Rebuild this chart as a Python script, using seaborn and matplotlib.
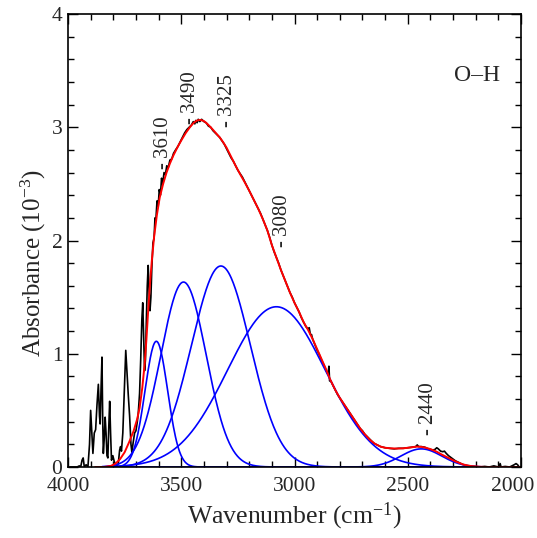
import numpy as np
import pandas as pd
import matplotlib
matplotlib.use("Agg")
import matplotlib.pyplot as plt
from matplotlib.ticker import MultipleLocator
from matplotlib.transforms import ScaledTranslation
import seaborn as sns

# ---- measured spectrum (wavenumber in cm^-1, absorbance in 1e-3) ----
meas_wn = [3990, 3960, 3950, 3944, 3938, 3933, 3928, 3920, 3912, 3905, 3900, 3894,
           3890, 3884, 3878, 3872, 3866, 3861, 3858, 3854, 3850, 3847, 3844, 3840,
           3836, 3832, 3828, 3824, 3820, 3816, 3812, 3808, 3802, 3796, 3790, 3784,
           3778, 3772, 3768, 3764, 3758, 3750, 3745, 3740, 3734, 3728, 3722, 3718,
           3712, 3706, 3700, 3694, 3690, 3684, 3679, 3674, 3670, 3666, 3662, 3658,
           3654, 3650, 3646, 3642, 3638, 3634, 3630, 3625, 3620, 3616, 3612, 3607,
           3602, 3597, 3592, 3587, 3582, 3576, 3570, 3564, 3558, 3550, 3542, 3534,
           3525, 3515, 3505, 3495, 3485, 3475, 3465, 3455, 3447, 3440, 3436, 3430,
           3425, 3418, 3410, 3400, 3390, 3380, 3370, 3360, 3350, 3340, 3330, 3320,
           3310, 3300, 3290, 3280, 3270, 3260, 3250, 3240, 3230, 3220, 3210, 3200,
           3190, 3180, 3170, 3160, 3150, 3140, 3130, 3120, 3110, 3100, 3090, 3080,
           3070, 3060, 3050, 3040, 3030, 3020, 3010, 3000, 2990, 2980, 2970, 2960,
           2950, 2940, 2935, 2930, 2925, 2920, 2910, 2900, 2890, 2880, 2870, 2860,
           2852, 2848, 2845, 2840, 2830, 2820, 2810, 2800, 2790, 2780, 2770, 2760,
           2750, 2740, 2730, 2720, 2710, 2700, 2690, 2680, 2670, 2660, 2650, 2640,
           2630, 2620, 2610, 2600, 2580, 2560, 2540, 2520, 2500, 2480, 2465, 2458,
           2452, 2440, 2425, 2410, 2400, 2390, 2380, 2372, 2365, 2355, 2345, 2338,
           2330, 2320, 2310, 2300, 2290, 2280, 2270, 2260, 2250, 2240, 2220, 2200,
           2180, 2160, 2140, 2120, 2100, 2092, 2088, 2070, 2050, 2030, 2022, 2015,
           2008, 2000]
meas_abs = [0.00, 0.00, 0.01, 0.00, 0.06, 0.08, 0.00, 0.02, 0.00, 0.20, 0.50, 0.28,
            0.12, 0.30, 0.33, 0.55, 0.73, 0.45, 0.38, 0.70, 0.97, 0.45, 0.12, 0.25,
            0.44, 0.30, 0.10, 0.08, 0.35, 0.58, 0.30, 0.06, 0.10, 0.05, 0.02, 0.01,
            0.03, 0.15, 0.18, 0.14, 0.30, 0.75, 1.03, 0.85, 0.64, 0.45, 0.20, 0.13,
            0.22, 0.30, 0.32, 0.40, 0.47, 0.65, 0.95, 1.30, 1.45, 1.15, 0.85, 0.95,
            1.30, 1.60, 1.78, 1.55, 1.38, 1.50, 1.75, 1.98, 2.02, 2.20, 2.18, 2.35,
            2.30, 2.45, 2.40, 2.55, 2.50, 2.60, 2.58, 2.66, 2.64, 2.71, 2.72, 2.77,
            2.80, 2.83, 2.87, 2.91, 2.95, 2.98, 3.00, 3.02, 3.05, 3.03, 3.06, 3.04,
            3.07, 3.05, 3.07, 3.05, 3.04, 3.01, 3.00, 2.97, 2.95, 2.93, 2.91, 2.88,
            2.85, 2.81, 2.77, 2.73, 2.70, 2.66, 2.62, 2.59, 2.56, 2.52, 2.48, 2.44,
            2.40, 2.36, 2.32, 2.28, 2.24, 2.19, 2.14, 2.09, 2.03, 1.96, 1.90, 1.85,
            1.80, 1.74, 1.69, 1.64, 1.59, 1.54, 1.50, 1.45, 1.41, 1.37, 1.32, 1.28,
            1.24, 1.22, 1.23, 1.17, 1.17, 1.13, 1.08, 1.03, 0.99, 0.94, 0.90, 0.85,
            0.82, 0.89, 0.76, 0.76, 0.72, 0.68, 0.64, 0.61, 0.58, 0.55, 0.52, 0.49,
            0.46, 0.43, 0.40, 0.37, 0.34, 0.32, 0.29, 0.27, 0.25, 0.23, 0.21, 0.20,
            0.19, 0.18, 0.175, 0.17, 0.165, 0.16, 0.165, 0.165, 0.17, 0.175, 0.18, 0.195,
            0.18, 0.18, 0.175, 0.16, 0.155, 0.15, 0.155, 0.17, 0.16, 0.14, 0.135, 0.14,
            0.12, 0.10, 0.085, 0.07, 0.055, 0.045, 0.035, 0.025, 0.018, 0.012, 0.006, 0.003,
            0.00, 0.005, 0.00, 0.01, 0.00, 0.03, 0.00, 0.005, 0.00, 0.02, 0.03, 0.02,
            0.00, 0.00]

# ---- fitted envelope ----
fit_wn = [3880, 3840, 3810, 3790, 3770, 3750, 3730, 3710, 3695, 3684, 3672, 3662,
          3654, 3646, 3638, 3630, 3620, 3608, 3595, 3580, 3565, 3550, 3535, 3515,
          3498, 3480, 3462, 3445, 3430, 3415, 3400, 3385, 3370, 3350, 3330, 3314,
          3300, 3280, 3260, 3240, 3220, 3200, 3180, 3160, 3140, 3120, 3100, 3080,
          3060, 3040, 3020, 3000, 2980, 2960, 2940, 2920, 2900, 2880, 2860, 2843,
          2820, 2800, 2780, 2755, 2730, 2710, 2690, 2667, 2645, 2620, 2600, 2578,
          2550, 2520, 2490, 2461, 2440, 2420, 2400, 2372, 2350, 2320, 2290, 2255,
          2220, 2180, 2150, 2000]
fit_abs = [0.00, 0.00, 0.01, 0.03, 0.07, 0.13, 0.22, 0.32, 0.42, 0.52, 0.70, 0.90,
           1.12, 1.38, 1.62, 1.82, 2.03, 2.22, 2.38, 2.50, 2.60, 2.68, 2.75, 2.83,
           2.89, 2.95, 3.00, 3.04, 3.06, 3.065, 3.055, 3.03, 3.00, 2.955, 2.91, 2.865,
           2.82, 2.74, 2.66, 2.585, 2.515, 2.44, 2.36, 2.28, 2.19, 2.09, 1.96, 1.85,
           1.74, 1.64, 1.54, 1.45, 1.37, 1.28, 1.21, 1.13, 1.04, 0.95, 0.86, 0.775,
           0.68, 0.61, 0.55, 0.475, 0.40, 0.34, 0.29, 0.24, 0.205, 0.18, 0.17, 0.165,
           0.163, 0.165, 0.172, 0.18, 0.178, 0.17, 0.158, 0.135, 0.11, 0.08, 0.05, 0.022,
           0.008, 0.002, 0.00, 0.00]

# ---- Gaussian components: centre, height, width (sigma) ----
peak_centres = [3610, 3490, 3325, 3080, 2440]
peak_heights = [1.11, 1.633, 1.775, 1.415, 0.16]
peak_sigmas = [50, 100, 130, 215, 90]
peak_labels = ["-\u20093610", "-\u20093490", "-\u20093325", "-\u20093080", "-\u20092440"]

sns.set_style("ticks")
plt.rcParams["font.family"] = ["Liberation Serif", "DejaVu Serif"]
plt.rcParams["mathtext.fontset"] = "custom"
plt.rcParams["mathtext.rm"] = "Liberation Serif"
plt.rcParams["mathtext.it"] = "Liberation Serif:italic"
plt.rcParams["mathtext.default"] = "regular"

fig = plt.figure(figsize=(5.37, 5.38), dpi=100)
ax = fig.add_axes([68 / 537, 71 / 538, 453 / 537, 453 / 538])

meas = pd.DataFrame({"wn": meas_wn, "absorbance": meas_abs})
fit = pd.DataFrame({"wn": fit_wn, "absorbance": fit_abs})

sns.lineplot(data=meas, x="wn", y="absorbance", sort=False, estimator=None,
             color="black", lw=1.2, ax=ax)

grid = np.linspace(3850, 2050, 600)
for c, h, s in zip(peak_centres, peak_heights, peak_sigmas):
    comp = pd.DataFrame({"wn": grid, "absorbance": h * np.exp(-(grid - c) ** 2 / (2 * s ** 2))})
    sns.lineplot(data=comp, x="wn", y="absorbance", sort=False, estimator=None,
                 color="#0000ff", lw=1.2, ax=ax)

sns.lineplot(data=fit, x="wn", y="absorbance", sort=False, estimator=None,
             color="#ff0000", lw=1.4, ax=ax)

# peak position labels, placed just above the envelope
label_x = [3580, 3459, 3298, 3051, 2410]
label_y = [2.63, 3.03, 3.00, 1.945, 0.28]
for lx, ly, txt in zip(label_x, label_y, peak_labels):
    ax.text(lx, ly, txt, rotation=90, ha="center", va="bottom", fontsize=15)

ax.text(0.903, 0.865, "O\u2013H", transform=ax.transAxes, ha="center", va="center",
        fontsize=17)

ax.set_xlim(4000, 2000)
ax.set_ylim(0, 4)
ax.set_xticks([4000, 3500, 3000, 2500, 2000])
ax.xaxis.set_minor_locator(MultipleLocator(100))
ax.set_yticks([0, 1, 2, 3, 4])
ax.yaxis.set_minor_locator(MultipleLocator(0.2))
ax.tick_params(which="both", direction="in", top=True, right=True,
               color="black", width=1.0, labelsize=15.5)
ax.tick_params(which="major", length=7)
ax.tick_params(which="minor", length=4)
ax.tick_params(axis="x", pad=7.5)
ax.tick_params(axis="y", pad=4)
for sp in ax.spines.values():
    sp.set_linewidth(1.2)
    sp.set_color("black")

# keep the last x tick label inside the figure
last = ax.get_xticklabels()[-1]
last.set_transform(last.get_transform() + ScaledTranslation(-8 / 100, 0, fig.dpi_scale_trans))

ax.set_xlabel("Wavenumber (cm$^{-1}$)", fontsize=18.5)
ax.set_ylabel("Absorbance (10$^{-3}$)", fontsize=18)
ax.xaxis.set_label_coords(0.5, -0.075)
ax.yaxis.set_label_coords(-0.045, 0.45)

fig.savefig("out.png", dpi=100)
